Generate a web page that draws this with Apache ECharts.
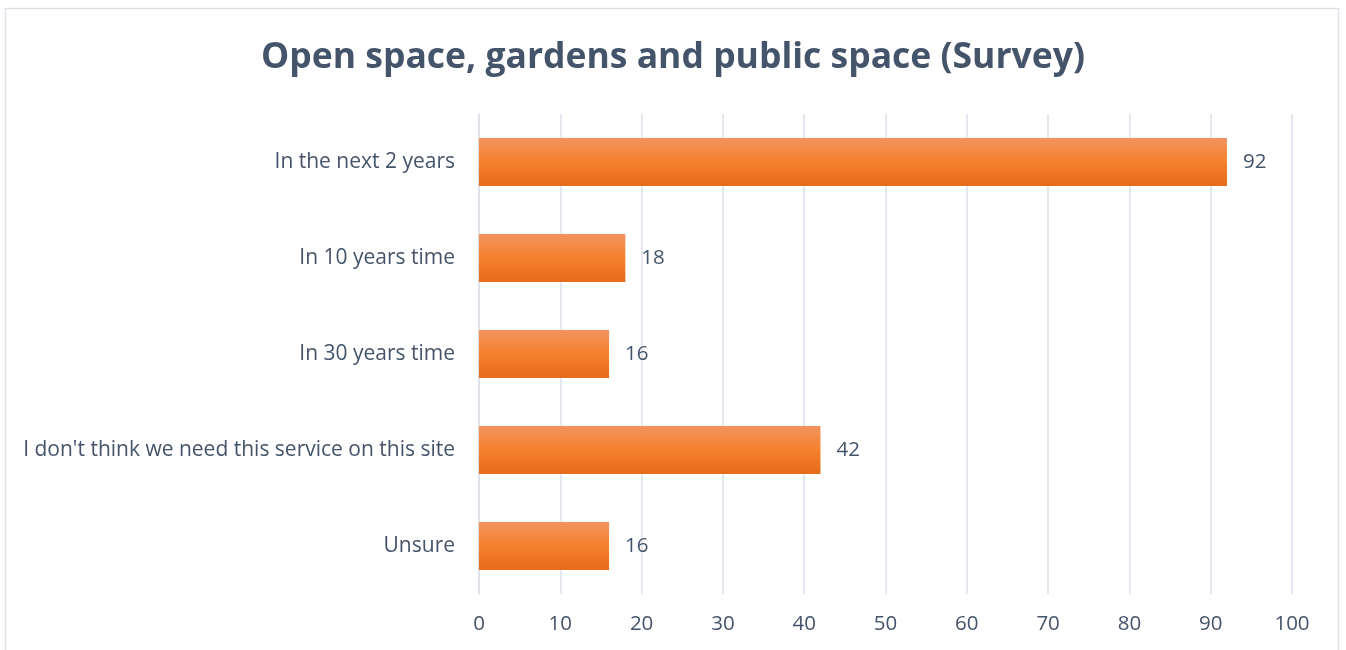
<!DOCTYPE html>
<html>
<head>
<meta charset="utf-8">
<script src="https://cdn.jsdelivr.net/npm/echarts@6/dist/echarts.min.js"></script>
<style>
  html, body { margin: 0; padding: 0; background: #fff; }
  #chart { width: 1346px; height: 650px; }
</style>
</head>
<body>
<div id="chart"></div>
<script>
// Survey responses, listed top to bottom
const categories = [
  "In the next 2 years",
  "In 10 years time",
  "In 30 years time",
  "I don't think we need this service on this site",
  "Unsure"
];
const responses = [92, 18, 16, 42, 16];
const xTicks = [0, 10, 20, 30, 40, 50, 60, 70, 80, 90, 100];

const textColor = "#44546a";
const fontFamily = "'Open Sans', 'Noto Sans', sans-serif";

const chart = echarts.init(document.getElementById("chart"), null, { renderer: "canvas" });

chart.setOption({
  backgroundColor: "#ffffff",
  animation: false,
  title: {
    text: "Open space, gardens and public space (Survey)",
    left: "center",
    top: 35,
    textStyle: { color: textColor, fontSize: 35.5, fontWeight: "bold", fontFamily: fontFamily }
  },
  graphic: [{
    type: "rect",
    shape: { x: 5.5, y: 8.5, width: 1333, height: 700 },
    style: { fill: "none", stroke: "#dde1e8", lineWidth: 1.5 },
    silent: true,
    z: -1
  }],
  grid: { left: 479, right: 54, top: 114, bottom: 56, containLabel: false },
  xAxis: {
    type: "value",
    min: xTicks[0],
    max: xTicks[xTicks.length - 1],
    interval: xTicks[1] - xTicks[0],
    axisLine: { show: false },
    axisTick: { show: false },
    splitLine: { lineStyle: { color: "#dde1e8", width: 1.5 } },
    axisLabel: { color: textColor, fontSize: 20.5, fontFamily: fontFamily, margin: 20 }
  },
  yAxis: {
    type: "category",
    inverse: true,
    data: categories,
    axisLine: { show: true, lineStyle: { color: "#dde1e8", width: 1.5 } },
    axisTick: { show: false },
    axisLabel: { color: textColor, fontSize: 21, fontFamily: fontFamily, margin: 24 }
  },
  series: [{
    type: "bar",
    data: responses,
    barWidth: "50%",
    itemStyle: {
      color: new echarts.graphic.LinearGradient(0, 0, 0, 1, [
        { offset: 0, color: "#f29460" },
        { offset: 0.5, color: "#f5802c" },
        { offset: 1, color: "#e56b19" }
      ])
    },
    label: {
      show: true,
      position: "right",
      distance: 16,
      color: textColor,
      fontSize: 20.5,
      fontFamily: fontFamily
    }
  }]
});
</script>
</body>
</html>
